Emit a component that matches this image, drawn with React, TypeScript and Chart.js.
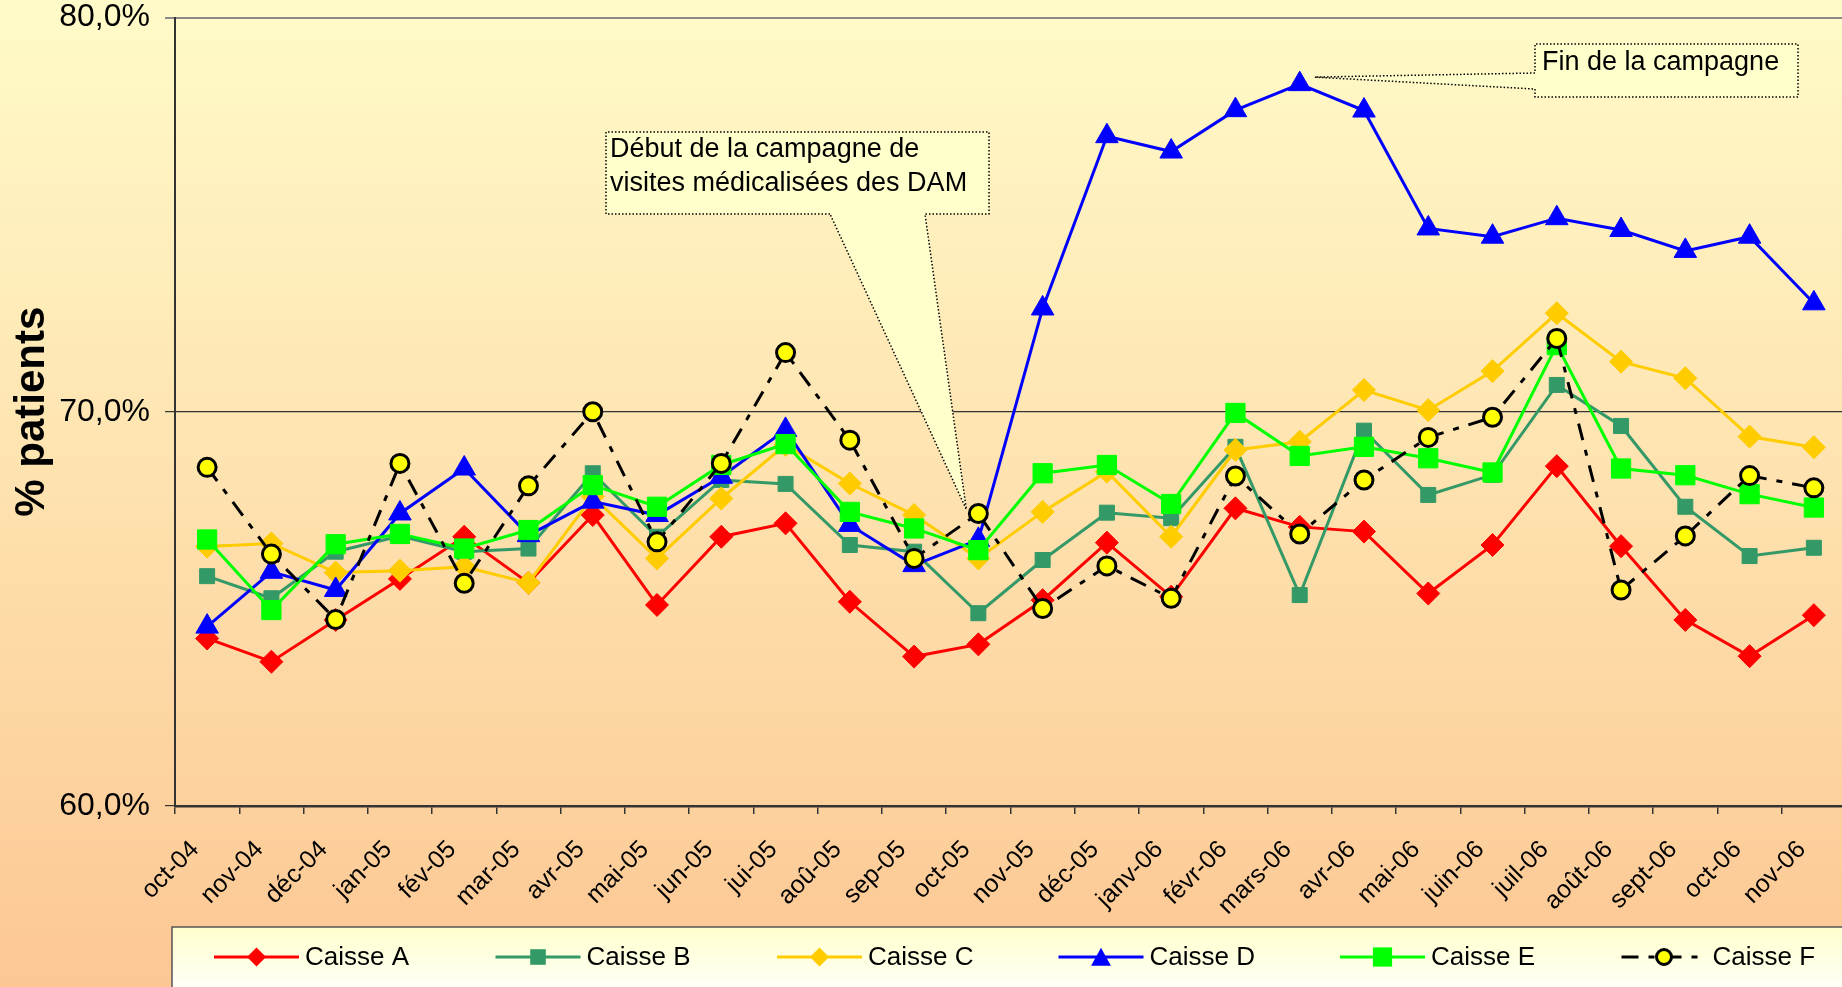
import React, { useEffect, useRef } from 'react';
import { Chart, registerables } from 'chart.js';

Chart.register(...registerables);

// ---------- DATA ----------
const months = ['oct-04', 'nov-04', 'déc-04', 'jan-05', 'fév-05', 'mar-05', 'avr-05', 'mai-05', 'jun-05', 'jui-05', 'aoû-05', 'sep-05', 'oct-05', 'nov-05', 'déc-05', 'janv-06', 'févr-06', 'mars-06', 'avr-06', 'mai-06', 'juin-06', 'juil-06', 'août-06', 'sept-06', 'oct-06', 'nov-06'];

const caisseA = [64.25, 63.66, 64.72, 65.76, 66.83, 65.66, 67.38, 65.10, 66.83, 67.17, 65.18, 63.79, 64.10, 65.22, 66.68, 65.31, 67.55, 67.08, 66.96, 65.39, 66.62, 68.62, 66.59, 64.72, 63.80, 64.84];
const caisseB = [65.83, 65.27, 66.45, 66.85, 66.45, 66.53, 68.44, 66.83, 68.27, 68.17, 66.62, 66.45, 64.89, 66.24, 67.44, 67.30, 69.11, 65.35, 69.52, 67.89, 68.40, 70.68, 69.64, 67.59, 66.34, 66.55];
const caisseC = [66.58, 66.66, 65.92, 65.97, 66.07, 65.66, 67.85, 66.28, 67.80, 69.16, 68.18, 67.38, 66.28, 67.46, 68.48, 66.83, 69.03, 69.24, 70.55, 70.04, 71.03, 72.50, 71.27, 70.85, 69.37, 69.10];
const caisseD = [64.55, 65.94, 65.48, 67.42, 68.56, 66.87, 67.72, 67.38, 68.35, 69.54, 67.13, 66.11, 66.75, 72.62, 76.99, 76.60, 77.65, 78.31, 77.64, 74.65, 74.44, 74.91, 74.61, 74.08, 74.44, 72.75];
const caisseE = [66.76, 64.97, 66.64, 66.90, 66.53, 67.00, 68.14, 67.59, 68.65, 69.18, 67.46, 67.04, 66.49, 68.44, 68.65, 67.66, 69.97, 68.88, 69.11, 68.82, 68.46, 71.69, 68.56, 68.39, 67.91, 67.57];
const caisseF = [68.59, 66.39, 64.73, 68.69, 65.65, 68.12, 70.00, 66.70, 68.69, 71.50, 69.28, 66.28, 67.42, 65.01, 66.09, 65.27, 68.37, 66.90, 68.27, 69.35, 69.86, 71.86, 65.48, 66.85, 68.38, 68.07];

const seriesNames = ['Caisse A', 'Caisse B', 'Caisse C', 'Caisse D', 'Caisse E', 'Caisse F'];
const yMin = 60;
const yMax = 80;
const yStep = 10;
const yTitle = '% patients';
const noteStart = ['Début de la campagne de', 'visites médicalisées des DAM'];
const noteStartMonth = 'oct-05';
const noteEnd = 'Fin de la campagne';
const noteEndMonth = 'mars-06';

const FONT = "'Liberation Sans', Arial, Helvetica, sans-serif";

type Marker = 'rectRot' | 'rect' | 'triangle' | 'circle';
interface Style {
  color: string;
  marker: Marker;
  radius: number;
  legendR: number;
  fill: string;
  pBorder: string;
  pBorderW: number;
  dash?: number[];
}

const styles: Style[] = [
  { color: '#FF0000', marker: 'rectRot', radius: 11.5, legendR: 9.5, fill: '#FF0000', pBorder: '#FF0000', pBorderW: 1 },
  { color: '#339966', marker: 'rect', radius: 10.6, legendR: 7.8, fill: '#339966', pBorder: '#339966', pBorderW: 1 },
  { color: '#FFCC00', marker: 'rectRot', radius: 11.5, legendR: 9.5, fill: '#FFCC00', pBorder: '#FFCC00', pBorderW: 1 },
  { color: '#0000FF', marker: 'triangle', radius: 13, legendR: 11, fill: '#0000FF', pBorder: '#0000FF', pBorderW: 1 },
  { color: '#00FF00', marker: 'rect', radius: 13.6, legendR: 9.6, fill: '#00FF00', pBorder: '#00FF00', pBorderW: 1 },
  { color: '#000000', marker: 'circle', radius: 9, legendR: 7.5, fill: '#FFFF00', pBorder: '#000000', pBorderW: 3, dash: [17, 10, 6, 10] },
];

function drawMarker(ctx: CanvasRenderingContext2D, s: Style, x: number, y: number, r: number) {
  ctx.save();
  ctx.setLineDash([]);
  ctx.fillStyle = s.fill;
  ctx.strokeStyle = s.pBorder;
  ctx.lineWidth = s.pBorderW;
  ctx.beginPath();
  if (s.marker === 'rectRot') {
    ctx.moveTo(x - r, y);
    ctx.lineTo(x, y - r);
    ctx.lineTo(x + r, y);
    ctx.lineTo(x, y + r);
    ctx.closePath();
  } else if (s.marker === 'rect') {
    ctx.rect(x - r, y - r, 2 * r, 2 * r);
  } else if (s.marker === 'triangle') {
    const w = r * 0.9;
    ctx.moveTo(x, y - r * 0.85);
    ctx.lineTo(x + w, y + r * 0.8);
    ctx.lineTo(x - w, y + r * 0.8);
    ctx.closePath();
  } else {
    ctx.arc(x, y, r, 0, Math.PI * 2);
  }
  ctx.fill();
  if (s.pBorderW > 1) ctx.stroke();
  ctx.restore();
}

function zeroPadding(scale: any) {
  scale.paddingTop = 0;
  scale.paddingBottom = 0;
  scale.paddingLeft = 0;
  scale.paddingRight = 0;
}

export default function App() {
  const ref = useRef<HTMLCanvasElement>(null);

  useEffect(() => {
    document.body.style.margin = '0';
    document.body.style.overflow = 'hidden';
    const canvas = ref.current;
    if (!canvas) return;

    const bgPlugin = {
      id: 'bgGradient',
      beforeDraw(chart: any) {
        const { ctx, width, height } = chart;
        const g = ctx.createLinearGradient(0, 0, 0, height);
        g.addColorStop(0, '#FFFBC8');
        g.addColorStop(0.42, '#FEE6B3');
        g.addColorStop(1, '#FCC793');
        ctx.save();
        ctx.fillStyle = g;
        ctx.fillRect(0, 0, width, height);
        ctx.restore();
      },
    };

    const titlePlugin = {
      id: 'yTitle',
      afterDraw(chart: any) {
        const { ctx, chartArea } = chart;
        ctx.save();
        ctx.translate(44, (chartArea.top + chartArea.bottom) / 2);
        ctx.rotate(-Math.PI / 2);
        ctx.font = `bold 42px ${FONT}`;
        ctx.fillStyle = '#000';
        ctx.textAlign = 'center';
        ctx.textBaseline = 'alphabetic';
        ctx.fillText(yTitle, 0, 0);
        ctx.restore();
      },
    };

    const notesPlugin = {
      id: 'notes',
      beforeDatasetsDraw(chart: any) {
        const { ctx } = chart;
        const xs = chart.scales.x;
        const ys = chart.scales.y;
        const i1 = months.indexOf(noteStartMonth);
        const i2 = months.indexOf(noteEndMonth);
        const t1x = xs.getPixelForValue(i1) - 12;
        const t1y = ys.getPixelForValue(caisseF[i1]) - 4;
        const t2x = xs.getPixelForValue(i2) + 15;
        const t2y = ys.getPixelForValue(caisseD[i2]) - 7;

        ctx.save();
        ctx.fillStyle = '#FFFFCC';
        ctx.strokeStyle = '#000';
        ctx.lineWidth = 1.5;
        ctx.setLineDash([1.5, 2]);

        // Début callout
        const L = 606, T = 132, R = 989, B = 214;
        ctx.beginPath();
        ctx.moveTo(830, B);
        ctx.lineTo(L, B);
        ctx.lineTo(L, T);
        ctx.lineTo(R, T);
        ctx.lineTo(R, B);
        ctx.lineTo(925, B);
        ctx.lineTo(t1x, t1y);
        ctx.closePath();
        ctx.fill();
        ctx.stroke();

        // Fin callout
        const L2 = 1535, T2 = 44, R2 = 1798, B2 = 97;
        ctx.beginPath();
        ctx.moveTo(L2, 89);
        ctx.lineTo(L2, B2);
        ctx.lineTo(R2, B2);
        ctx.lineTo(R2, T2);
        ctx.lineTo(L2, T2);
        ctx.lineTo(L2, 73);
        ctx.lineTo(t2x, t2y);
        ctx.closePath();
        ctx.fill();
        ctx.stroke();

        ctx.setLineDash([]);
        ctx.fillStyle = '#000';
        ctx.font = `27px ${FONT}`;
        ctx.textAlign = 'left';
        ctx.textBaseline = 'alphabetic';
        ctx.fillText(noteStart[0], 610, 157);
        ctx.fillText(noteStart[1], 610, 191);
        ctx.fillText(noteEnd, 1542, 70);
        ctx.restore();
      },
    };

    const legendPlugin = {
      id: 'customLegend',
      afterDraw(chart: any) {
        const { ctx } = chart;
        const top = 927, left = 172;
        ctx.save();
        const g = ctx.createLinearGradient(0, top, 0, 1000);
        g.addColorStop(0, '#FFFFCC');
        g.addColorStop(1, '#FFFFFF');
        ctx.fillStyle = g;
        ctx.fillRect(left, top, 2000, 200);
        ctx.strokeStyle = '#555';
        ctx.lineWidth = 1.5;
        ctx.beginPath();
        ctx.moveTo(left, 1100);
        ctx.lineTo(left, top);
        ctx.lineTo(2000, top);
        ctx.stroke();
        styles.forEach((s, k) => {
          const x0 = 214 + 281.5 * k;
          const y = 957;
          ctx.strokeStyle = s.color;
          ctx.lineWidth = 3;
          ctx.setLineDash(s.dash || []);
          ctx.beginPath();
          ctx.moveTo(x0, y);
          ctx.lineTo(x0 + 85, y);
          ctx.stroke();
          ctx.setLineDash([]);
          drawMarker(ctx, s, x0 + 42.5, y, s.legendR);
          ctx.fillStyle = '#000';
          ctx.font = `26px ${FONT}`;
          ctx.textAlign = 'left';
          ctx.textBaseline = 'middle';
          ctx.fillText(seriesNames[k], x0 + 91, y + 1);
        });
        ctx.restore();
      },
    };

    const values = [caisseA, caisseB, caisseC, caisseD, caisseE, caisseF];
    const datasets = values.map((data, k) => {
      const s = styles[k];
      return {
        label: seriesNames[k],
        data,
        borderColor: s.color,
        backgroundColor: s.fill,
        borderWidth: 3,
        borderDash: s.dash || [],
        pointStyle: s.marker,
        pointRadius: s.radius,
        pointHoverRadius: s.radius,
        pointBackgroundColor: s.fill,
        pointBorderColor: s.pBorder,
        pointBorderWidth: s.pBorderW,
        tension: 0,
        fill: false,
        clip: false,
        order: 6 - k,
      };
    });

    const chart = new Chart(canvas, {
      type: 'line',
      data: { labels: months, datasets },
      plugins: [bgPlugin, notesPlugin, titlePlugin, legendPlugin],
      options: {
        responsive: false,
        animation: false,
        events: [],
        layout: { autoPadding: false, padding: { top: 17.5, left: 0, right: 0, bottom: 0 } },
        plugins: {
          legend: { display: false },
          tooltip: { enabled: false },
          title: { display: false },
        },
        scales: {
          x: {
            type: 'category',
            offset: true,
            afterFit: (scale: any) => { scale.height = 181; zeroPadding(scale); },
            grid: {
              offset: true,
              drawOnChartArea: false,
              drawTicks: true,
              tickLength: 8,
              color: '#333',
              lineWidth: 1.5,
            },
            border: { display: true, color: '#333', width: 2.5 },
            ticks: {
              autoSkip: false,
              maxRotation: 45,
              minRotation: 45,
              padding: 21,
              labelOffset: -12,
              color: '#000',
              font: { size: 25, family: FONT, lineHeight: 1.2 },
            },
          },
          y: {
            min: yMin,
            max: yMax,
            afterFit: (scale: any) => { scale.width = 175; zeroPadding(scale); },
            grid: {
              color: (c: any) => (c.tick && c.tick.value === yMax ? '#8a8a8a' : '#333'),
              lineWidth: (c: any) => (c.tick && c.tick.value === yMax ? 2 : 1.2),
              tickLength: 10,
              drawTicks: true,
            },
            border: { display: true, color: '#333', width: 2 },
            ticks: {
              stepSize: yStep,
              padding: 15,
              color: '#000',
              font: { size: 32, family: FONT, lineHeight: 1 },
              callback: (v: any) => Number(v).toFixed(1).replace('.', ',') + '%',
            },
          },
        },
      },
    });

    return () => chart.destroy();
  }, []);

  return (
    <div style={{ position: 'absolute', left: 0, top: 0, width: 1842, height: 987, overflow: 'hidden' }}>
      <canvas ref={ref} width={1846} height={987} style={{ display: 'block', width: 1846, height: 987 }} />
    </div>
  );
}
